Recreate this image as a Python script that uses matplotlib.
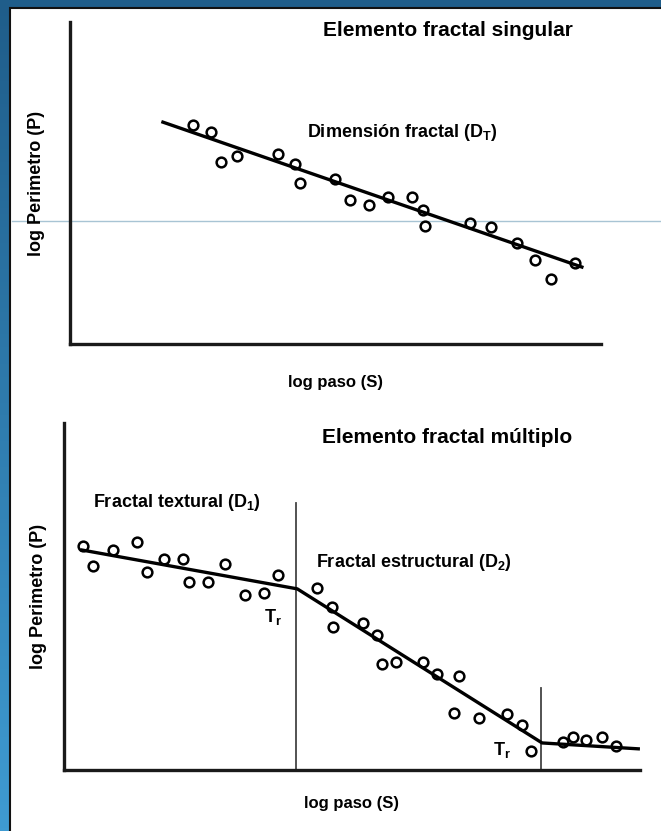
import numpy as np
import matplotlib
matplotlib.use('Agg')
import matplotlib.pyplot as plt
from matplotlib.patches import Rectangle

plt.rcParams['font.family'] = ['Liberation Sans', 'DejaVu Sans']
plt.rcParams['font.weight'] = 'bold'
plt.rcParams['axes.labelweight'] = 'bold'
plt.rcParams['mathtext.fontset'] = 'custom'
plt.rcParams['mathtext.rm'] = 'Liberation Sans:bold'
plt.rcParams['mathtext.it'] = 'Liberation Sans:bold'
plt.rcParams['mathtext.bf'] = 'Liberation Sans:bold'

# panel superior: elemento fractal singular (unidades arbitrarias log S / log P)
x_sing = [2.32, 2.66, 2.84, 3.14, 3.92, 4.24, 4.33, 4.99, 5.27, 5.63,
          5.99, 6.44, 6.65, 6.69, 7.53, 7.93, 8.42, 8.76, 9.06, 9.51]
y_sing = [6.80, 6.58, 5.65, 5.84, 5.90, 5.59, 5.00, 5.12, 4.47, 4.32,
          4.57, 4.57, 4.16, 3.66, 3.76, 3.63, 3.14, 2.61, 2.02, 2.52]
fit_sing_x = [1.75, 9.64]
fit_sing_y = [6.89, 2.39]

# panel inferior: elemento fractal multiple
x_mult = [0.33, 0.50, 0.85, 1.27, 1.44, 1.74, 2.07, 2.17, 2.50, 2.80, 3.14, 3.47, 3.72,
          4.39, 4.65, 4.67, 5.19, 5.43, 5.52, 5.76, 6.23, 6.48, 6.86, 6.77, 7.20, 7.69, 7.95, 8.11,
          8.66, 8.84, 9.06, 9.34, 9.58]
y_mult = [6.46, 5.88, 6.34, 6.57, 5.71, 6.08, 6.08, 5.42, 5.42, 5.94, 5.04, 5.10, 5.62,
          5.24, 4.70, 4.12, 4.24, 3.89, 3.05, 3.11, 3.11, 2.77, 2.71, 1.64, 1.50, 1.61, 1.30, 0.55,
          0.81, 0.95, 0.86, 0.95, 0.69]
fit_mult_x = [0.31, 4.05, 8.30, 9.97]
fit_mult_y = [6.34, 5.22, 0.78, 0.61]
# umbrales de transicion (Tr)
tr_x = [4.03, 8.28]
tr_top = [7.69, 2.36]

W, H = 661, 831
fig = plt.figure(figsize=(W / 100, H / 100), dpi=100)

# marco azul con degradado
bg = fig.add_axes([0, 0, 1, 1])
grad = np.linspace(0, 1, 256).reshape(-1, 1)
cmap = matplotlib.colors.LinearSegmentedColormap.from_list('marco', ['#1f5d8a', '#3f9bd2'])
bg.imshow(grad, aspect='auto', cmap=cmap, extent=[0, W, H, 0])
bg.add_patch(Rectangle((10, 8), W, H, facecolor='white', edgecolor='#111111', lw=1.5))
bg.plot([12, W], [221, 221], color='#a8c4d4', lw=1)
bg.set_xlim(0, W)
bg.set_ylim(H, 0)
bg.axis('off')


def estilo(ax):
    for s in ['top', 'right']:
        ax.spines[s].set_visible(False)
    for s in ['left', 'bottom']:
        ax.spines[s].set_linewidth(2.4)
        ax.spines[s].set_color('#1a1a1a')
    ax.set_xticks([])
    ax.set_yticks([])
    ax.set_xlim(0, 10)
    ax.set_ylim(0, 10)
    ax.patch.set_alpha(0)


ax1 = fig.add_axes([70 / W, (H - 344) / H, 531 / W, 322 / H])
estilo(ax1)
ax1.plot(fit_sing_x, fit_sing_y, color='black', lw=2.4)
ax1.plot(x_sing, y_sing, 'o', ms=7, mfc='none', mec='black', mew=1.8)
ax1.text(7.12, 9.75, 'Elemento fractal singular', ha='center', va='center',
         fontsize=15, fontweight='bold')
ax1.text(6.25, 6.58, r'Dimensión fractal (D$_\mathregular{T}$)', ha='center', va='center',
         fontsize=13, fontweight='bold')
ax1.set_xlabel('log paso (S)', fontsize=12, labelpad=22)
ax1.set_ylabel('log Perimetro (P)', fontsize=13, labelpad=18)

ax2 = fig.add_axes([64 / W, (H - 770) / H, 576 / W, 347 / H])
estilo(ax2)
for xv, yt in zip(tr_x, tr_top):
    ax2.plot([xv, xv], [0, yt], color='#444444', lw=1.3)
ax2.plot(fit_mult_x, fit_mult_y, color='black', lw=2.4)
ax2.plot(x_mult, y_mult, 'o', ms=7, mfc='none', mec='black', mew=1.8)
ax2.text(6.65, 9.57, 'Elemento fractal múltiplo', ha='center', va='center',
         fontsize=15, fontweight='bold')
ax2.text(0.50, 7.72, r'Fractal textural (D$_\mathregular{1}$)', ha='left', va='center',
         fontsize=13, fontweight='bold')
ax2.text(4.38, 5.97, r'Fractal estructural (D$_\mathregular{2}$)', ha='left', va='center',
         fontsize=13, fontweight='bold')
ax2.text(3.63, 4.41, r'T$_\mathregular{r}$', ha='center', va='center', fontsize=13, fontweight='bold')
ax2.text(7.60, 0.58, r'T$_\mathregular{r}$', ha='center', va='center', fontsize=13, fontweight='bold')
ax2.set_xlabel('log paso (S)', fontsize=12, labelpad=19)
ax2.set_ylabel('log Perimetro (P)', fontsize=13, labelpad=12)

fig.savefig('out.png', dpi=100)
